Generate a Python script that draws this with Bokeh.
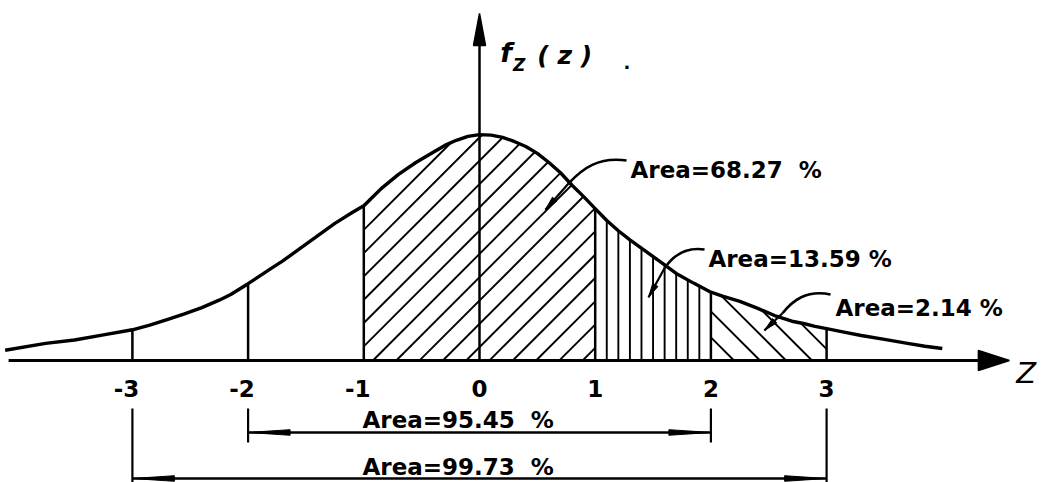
import numpy as np
from bokeh.plotting import figure
from bokeh.models import Range1d, ColumnDataSource
from bokeh.core.properties import value
from bokeh.embed import file_html
from bokeh.resources import INLINE

# Density curve f_Z(z) as drawn
z_pts = [-4.1, -3.75, -3.5, -3.25, -3.0, -2.85, -2.7, -2.55, -2.4, -2.25, -2.15, -2.0, -1.8, -1.7,
         -1.55, -1.4, -1.25, -1.1, -1.0, -0.85, -0.7, -0.55, -0.4, -0.3, -0.2, -0.1, 0.0,
         0.1, 0.2, 0.3, 0.4, 0.5, 0.6, 0.7, 0.8, 0.9, 1.0, 1.1, 1.2, 1.3, 1.45, 1.6, 1.7,
         1.85, 2.0, 2.1, 2.25, 2.4, 2.55, 2.7, 2.8, 2.9, 3.0, 3.15, 3.3, 3.5, 3.7, 3.85, 4.0]
f_pts = [0.018, 0.030, 0.036, 0.045, 0.054, 0.062, 0.072, 0.082, 0.093, 0.106, 0.116, 0.135, 0.162, 0.175,
         0.197, 0.219, 0.241, 0.260, 0.272, 0.302, 0.327, 0.348, 0.366, 0.378, 0.387, 0.394, 0.397,
         0.396, 0.392, 0.385, 0.376, 0.364, 0.348, 0.330, 0.308, 0.288, 0.267, 0.246, 0.228, 0.212,
         0.190, 0.168, 0.153, 0.136, 0.120, 0.113, 0.104, 0.092, 0.079, 0.069, 0.065, 0.060, 0.056,
         0.050, 0.044, 0.037, 0.030, 0.025, 0.021]

# Axis ticks
tick_values = [-3, -2, -1, 0, 1, 2, 3]
tick_labels = ["-3", "-2", "-1", "0", "1", "2", "3"]

# Shaded bands (z interval, area in %)
band_lo = [-1, 1, 2]
band_hi = [1, 2, 3]
band_area = ["68.27", "13.59", "2.14"]

# Symmetric ranges (+/- k sigma, area in %)
range_k = [2, 3]
range_area = ["95.45", "99.73"]

W, H = 1042, 482
SX, SY = 115.7, 569.0          # screen pixels per data unit
X0, Y0 = 479, 360              # screen position of the origin
FONT = value("DejaVu Sans")
WIDE = "\u00a0 "               # wide gap before the percent sign

p = figure(width=W, height=H, output_backend="svg", toolbar_location=None,
           x_range=Range1d(-X0 / SX, (W - X0) / SX),
           y_range=Range1d(-(H - Y0) / SY, Y0 / SY),
           x_axis_type=None, y_axis_type=None, min_border=0)
p.grid.visible = False
p.outline_line_color = None
p.background_fill_color = "white"
p.border_fill_color = "white"

zc = np.array(z_pts)
fc = np.array(f_pts)


def curve(z):
    return np.interp(z, zc, fc)


dx, dy = 1.0 / SX, 1.0 / SY     # one pixel in data units
k45 = SX / SY                   # slope of a 45 degree line in data units

# ---- hatching -------------------------------------------------------------
hx0, hy0, hx1, hy1 = [], [], [], []


def diag_hatch(a, b, spacing_px, phase, sign):
    """45-degree hatch lines clipped to the area under the curve on [a, b]."""
    sp = spacing_px * dx
    grid = np.linspace(a, b, 4000)
    top = curve(grid)
    n0 = int(np.floor((a - 2.5 - phase) / sp))
    n1 = int(np.ceil((b + 2.5 - phase) / sp))
    for n in range(n0, n1 + 1):
        c = phase + n * sp
        yl = sign * k45 * (grid - c)
        ok = (yl >= 0) & (yl <= top)
        if ok.sum() < 2:
            continue
        idx = np.where(ok)[0]
        i0, i1 = idx[0], idx[-1]
        hx0.append(grid[i0]); hy0.append(yl[i0])
        hx1.append(grid[i1]); hy1.append(yl[i1])


diag_hatch(band_lo[0], band_hi[0], 23.3, 0.69, +1)
diag_hatch(band_lo[2], band_hi[2], 26.0, 2.2, -1)

for zv in np.round(np.arange(band_lo[1] + 0.1, band_hi[1] - 0.05, 0.1), 2):
    hx0.append(zv); hy0.append(0.0); hx1.append(zv); hy1.append(float(curve(zv)))

p.segment(hx0, hy0, hx1, hy1, line_color="black", line_width=1.9)

# ---- vertical lines at integer z ----------------------------------------
vz = [t for t in tick_values if t != 0]
p.segment(vz, [0] * len(vz), vz, [float(curve(t)) for t in vz],
          line_color="black", line_width=2.5)

# ---- density curve --------------------------------------------------------
p.line(z_pts, f_pts, line_color="black", line_width=3.4, line_join="round")

# ---- axes with arrows -----------------------------------------------------
x_end = 4.58
p.segment([-4.07], [0], [x_end - 28 * dx], [0], line_color="black", line_width=3)
p.patch([x_end, x_end - 31 * dx, x_end - 31 * dx],
        [0, 10 * dy, -10 * dy], fill_color="black", line_color="black", line_width=1.5)

y_end = 0.61
p.segment([0], [0], [0], [y_end - 20 * dy], line_color="black", line_width=2.5)
p.patch([0, -6 * dx, 6 * dx], [y_end, y_end - 32 * dy, y_end - 32 * dy],
        fill_color="black", line_color="black", line_width=1.5)

# ---- tick labels ----------------------------------------------------------
tsrc = ColumnDataSource(dict(x=tick_values, y=[-28 * dy] * len(tick_values), t=tick_labels,
                             off=[-6 if v < 0 else 0 for v in tick_values]))
p.text(x="x", y="y", text="t", x_offset="off", source=tsrc, text_font=FONT,
       text_font_style="bold", text_font_size="23px", text_align="center",
       text_baseline="alphabetic", text_color="black")

# axis names
p.text(x=[4.64], y=[-12 * dy], text=["Z"], text_font=FONT, text_font_size="29px",
       text_font_style="italic", text_baseline="alphabetic", text_color="black")
p.text(x=[0.18], y=[0.541], text=["f"], text_font=FONT, text_font_size="27px",
       text_font_style="bold italic", text_baseline="alphabetic", text_color="black")
p.text(x=[0.29], y=[0.520], text=["Z"], text_font=FONT, text_font_size="17px",
       text_font_style="bold italic", text_baseline="alphabetic", text_color="black")
p.text(x=[0.50], y=[0.536], text=["( z )"], text_font=FONT, text_font_size="25px",
       text_font_style="bold italic", text_baseline="alphabetic", text_color="black")
p.text(x=[1.245], y=[0.524], text=["."], text_font=FONT, text_font_size="18px",
       text_font_style="bold", text_baseline="alphabetic", text_color="black")

# ---- band labels with leader arrows --------------------------------------
lab_x = [1.305, 1.979, 3.077]
lab_y = [0.334, 0.179, 0.093]
lab_gap = [WIDE, " ", " "]
p.text(x=lab_x, y=lab_y, text=[f"Area={a}{g}%" for a, g in zip(band_area, lab_gap)],
       text_font=FONT, text_font_style="bold", text_font_size="23px",
       text_baseline="alphabetic", text_color="black")

# leader: bezier from label to the curve, then a short shaft into the band
lead = dict(x0=[1.271, 1.945, 3.034], y0=[0.3515, 0.195, 0.116],
            cx0=[1.029, 1.772, 2.826], cy0=[0.3585, 0.200, 0.125],
            cx1=[0.890, 1.668, 2.705], cy1=[0.3374, 0.183, 0.105],
            x1=[0.769, 1.599, 2.619], y1=[0.311, 0.162, 0.083],
            tx=[0.570, 1.461, 2.463], ty=[0.265, 0.111, 0.053])
p.bezier(x0=lead["x0"], y0=lead["y0"], x1=lead["x1"], y1=lead["y1"],
         cx0=lead["cx0"], cy0=lead["cy0"], cx1=lead["cx1"], cy1=lead["cy1"],
         line_color="black", line_width=2.6)
p.segment(lead["x1"], lead["y1"], lead["tx"], lead["ty"], line_color="black", line_width=2.2)

heads_x, heads_y = [], []
for sx_, sy_, ex_, ey_ in zip(lead["x1"], lead["y1"], lead["tx"], lead["ty"]):
    # head shape laid out in screen pixels
    vx, vy = (ex_ - sx_) * SX, (ey_ - sy_) * SY
    L = np.hypot(vx, vy)
    ux, uy = vx / L, vy / L
    bx, by = -ux * 14, -uy * 14
    nx, ny = -uy * 3, ux * 3
    heads_x.append([ex_, ex_ + (bx + nx) * dx, ex_ + (bx - nx) * dx])
    heads_y.append([ey_, ey_ + (by + ny) * dy, ey_ + (by - ny) * dy])
p.patches(heads_x, heads_y, fill_color="black", line_color="black", line_width=1)

# ---- dimension lines for +/- k sigma -------------------------------------
dim_y = [-0.1265, -0.2074]
dim_top = -0.0844
dim_bot = [-0.1441, -0.22]
for kk, yy, yb, area in zip(range_k, dim_y, dim_bot, range_area):
    p.segment([-kk], [yy], [kk], [yy], line_color="black", line_width=2.6)
    p.segment([-kk, kk], [dim_top, dim_top], [-kk, kk], [yb, yb],
              line_color="black", line_width=2.2)
    ln = 42 * dx
    p.patches([[-kk, -kk + ln, -kk + ln], [kk, kk - ln, kk - ln]],
              [[yy, yy + 2.8 * dy, yy - 2.8 * dy], [yy, yy + 2.8 * dy, yy - 2.8 * dy]],
              fill_color="black", line_color="black", line_width=1)
    p.text(x=[-1.011], y=[yy + 12 * dy], text=[f"Area={area}{WIDE}%"], text_font=FONT,
           text_font_style="bold", text_font_size="23px", text_baseline="alphabetic",
           text_color="black")

open("out.html", "w").write(file_html(p, INLINE))
